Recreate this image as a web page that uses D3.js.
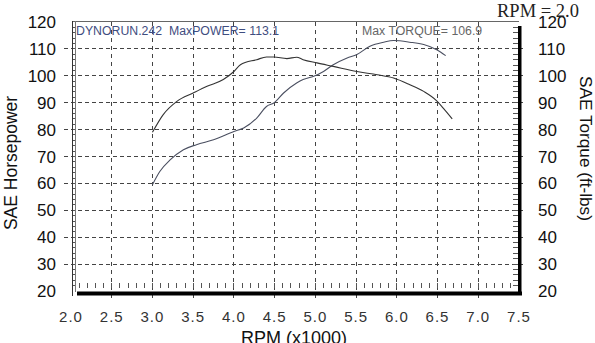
<!DOCTYPE html>
<html><head><meta charset="utf-8">
<script src="https://cdn.jsdelivr.net/npm/d3@7"></script>
<style>body{margin:0;background:#fff}svg{display:block}</style>
</head><body><svg id="c" width="595" height="343"></svg>
<script>
const rpmTicks = [2.0,2.5,3.0,3.5,4.0,4.5,5.0,5.5,6.0,6.5,7.0,7.5];
const valTicks = [20,30,40,50,60,70,80,90,100,110,120];
const torqueRpm = [3.0,3.13,3.30,3.50,3.67,3.87,4.0,4.08,4.28,4.40,4.49,4.65,4.77,4.85,5.02,5.22,5.51,5.76,5.96,6.16,6.33,6.49,6.57,6.68];
const torqueVal = [79.0,85.5,90.5,93.6,96.1,98.6,101.6,104.1,106.0,107.0,107.0,106.4,106.9,106.0,104.8,103.5,101.6,100.4,99.2,96.7,94.2,90.7,88.0,84.0];
const powerRpm = [3.0,3.09,3.22,3.38,3.54,3.75,4.0,4.12,4.28,4.40,4.49,4.61,4.77,4.85,4.98,5.10,5.22,5.39,5.51,5.67,5.84,5.96,6.16,6.33,6.49,6.60];
const powerVal = [59.5,64.4,68.8,72.5,74.4,76.2,79.3,80.6,84.3,88.6,89.9,93.6,97.3,98.6,99.8,101.6,104.1,106.6,107.9,111.0,112.5,113.1,112.5,111.6,109.7,107.5];
const titleText = "DYNORUN.242  MaxPOWER= 113.1";
const torqueText = "Max TORQUE= 106.9";
const rpmText = "RPM = 2.0";

const svg = d3.select("#c");
const x = d3.scaleLinear().domain([2.0,7.5]).range([71,519]);
const y = d3.scaleLinear().domain([20,120]).range([291,22]);

// grid
const g = svg.append("g");
g.selectAll(".vg").data(rpmTicks.slice(1,-1)).join("line")
  .attr("x1",d=>x(d)).attr("x2",d=>x(d)).attr("y1",y(120)).attr("y2",300)
  .attr("stroke","#444").attr("stroke-width",1).attr("stroke-dasharray","4,4").attr("shape-rendering","crispEdges");
g.selectAll(".hg").data(valTicks.slice(1,-1)).join("line")
  .attr("x1",64).attr("x2",526).attr("y1",d=>y(d)).attr("y2",d=>y(d))
  .attr("stroke","#444").attr("stroke-width",1).attr("stroke-dasharray","4,3").attr("shape-rendering","crispEdges");

// minor ticks bottom
const minorX = d3.range(21,75).map(d=>d/10);
g.selectAll(".mx").data(minorX).join("line")
  .attr("x1",d=>x(d)).attr("x2",d=>x(d)).attr("y1",283).attr("y2",288)
  .attr("stroke","#555").attr("stroke-width",1).attr("shape-rendering","crispEdges");
const minorY = d3.range(22,120,2);
g.selectAll(".ml").data(minorY).join("line")
  .attr("x1",72).attr("x2",75).attr("y1",d=>y(d)).attr("y2",d=>y(d))
  .attr("stroke","#555").attr("stroke-width",1).attr("shape-rendering","crispEdges");
g.selectAll(".mr").data(minorY).join("line")
  .attr("x1",513).attr("x2",518).attr("y1",d=>y(d)).attr("y2",d=>y(d))
  .attr("stroke","#555").attr("stroke-width",1).attr("shape-rendering","crispEdges");

// frame
g.append("line").attr("x1",72).attr("x2",519).attr("y1",21.5).attr("y2",21.5).attr("stroke","#666").attr("shape-rendering","crispEdges");
g.append("line").attr("x1",72.5).attr("x2",72.5).attr("y1",21).attr("y2",296).attr("stroke","#333").attr("shape-rendering","crispEdges");
g.append("line").attr("x1",75.5).attr("x2",75.5).attr("y1",21).attr("y2",292).attr("stroke","#777").attr("shape-rendering","crispEdges");
g.append("rect").attr("x",77).attr("y",291.5).attr("width",445).attr("height",4).attr("fill","#000");
g.append("rect").attr("x",518).attr("y",26).attr("width",3.5).attr("height",269).attr("fill","#000");

// curves
const line = d3.line().x(d=>x(d[0])).y(d=>y(d[1])).curve(d3.curveMonotoneX);
svg.append("path").datum(d3.zip(powerRpm,powerVal)).attr("d",line)
  .attr("fill","none").attr("stroke","#4a4f60").attr("stroke-width",1.1);
svg.append("path").datum(d3.zip(torqueRpm,torqueVal)).attr("d",line)
  .attr("fill","none").attr("stroke","#333").attr("stroke-width",1.1);

// tick labels
const font = "Arial, 'Liberation Sans', sans-serif";
svg.selectAll(".xl").data(rpmTicks).join("text")
  .attr("x",d=>x(d)).attr("y",322).attr("text-anchor","middle")
  .attr("font-family",font).attr("font-size",15).attr("fill","#333")
  .attr("letter-spacing",1).text(d=>d.toFixed(1));
svg.selectAll(".yl").data(valTicks).join("text")
  .attr("x",56).attr("y",d=>y(d)+6).attr("text-anchor","end")
  .attr("font-family",font).attr("font-size",17).attr("fill","#111").text(d=>d);
svg.selectAll(".yr").data(valTicks).join("text")
  .attr("x",538).attr("y",d=>y(d)+6).attr("text-anchor","start")
  .attr("font-family",font).attr("font-size",17).attr("fill","#111").text(d=>d);

// titles
svg.append("text").attr("x",294).attr("y",344).attr("text-anchor","middle")
  .attr("font-family",font).attr("font-size",18).attr("fill","#111").text("RPM (x1000)");
svg.append("text").attr("transform","translate(17,163) rotate(-90)").attr("text-anchor","middle")
  .attr("font-family",font).attr("font-size",17.5).attr("fill","#111").text("SAE Horsepower");
svg.append("text").attr("transform","translate(579.5,148.5) rotate(90)").attr("text-anchor","middle")
  .attr("font-family",font).attr("font-size",17.2).attr("fill","#111").text("SAE Torque (ft-lbs)");
svg.append("text").attr("x",497).attr("y",17)
  .attr("font-family","'Liberation Serif','Times New Roman',serif").attr("font-size",18.5).attr("fill","#222").text(rpmText);
svg.append("text").attr("x",76).attr("y",35).attr("xml:space","preserve")
  .attr("font-family",font).attr("font-size",12.3).attr("fill","#3f4d80").text(titleText);
svg.append("text").attr("x",362).attr("y",35)
  .attr("font-family",font).attr("font-size",12.3).attr("fill","#666").text(torqueText);
</script></body></html>
